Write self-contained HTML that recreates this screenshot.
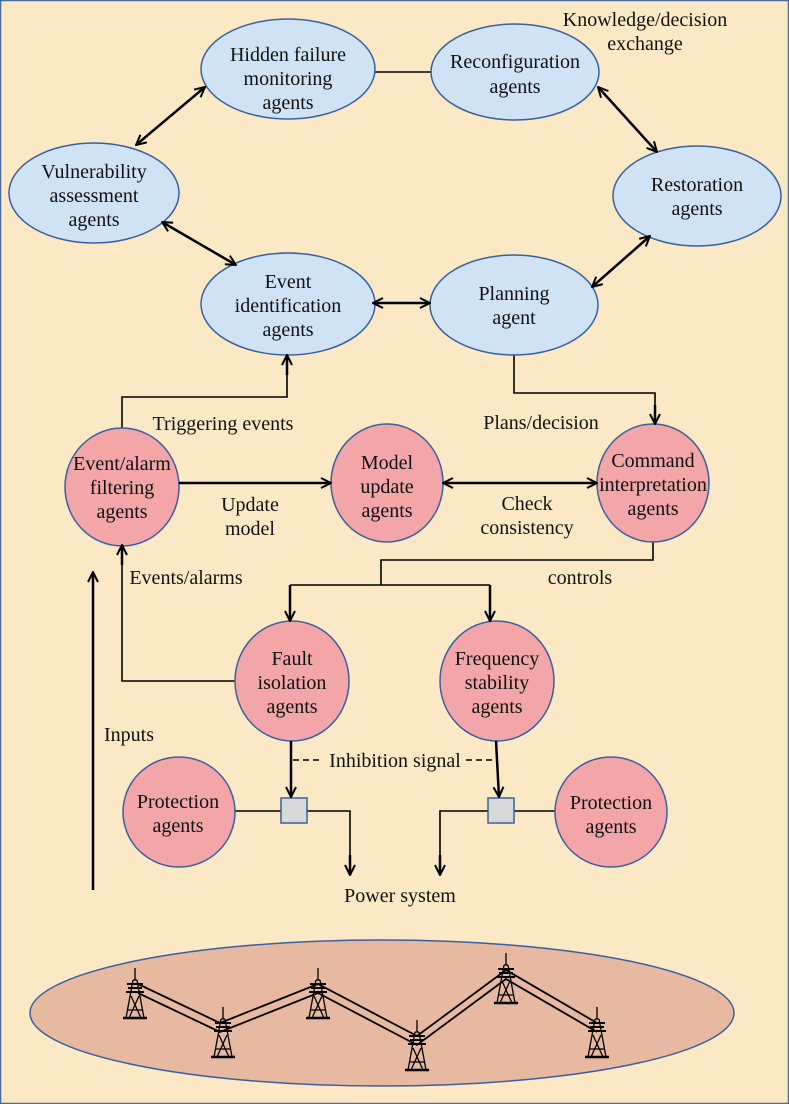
<!DOCTYPE html>
<html><head><meta charset="utf-8"><style>
html,body{margin:0;padding:0;background:#fbe9c5;}
svg{display:block;}
text{font-family:"Liberation Serif",serif;font-size:20px;fill:#111;}
</style></head><body>
<svg width="789" height="1104" viewBox="0 0 789 1104" xmlns="http://www.w3.org/2000/svg">
<defs>
<marker id="a" viewBox="0 0 12 12" refX="11" refY="6" markerWidth="12" markerHeight="12" markerUnits="userSpaceOnUse" orient="auto-start-reverse">
<path d="M1,1 L11,6 L1,11" fill="none" stroke="#000" stroke-width="2"/>
</marker>
<g id="tw" stroke="#000" fill="none" stroke-width="1.3">
<line x1="0" y1="0" x2="0" y2="12"/>
<path d="M-2,12 L-9,50 M2,12 L9,50 M-2,12 L2,12"/>
<path d="M-8,16 L8,16 M-9,24 L9,24 M-7,20 L7,20" stroke-width="2"/>
<path d="M-4,28 L6,50 M4,28 L-6,50 M-7,42 L7,42"/>
<line x1="-12" y1="50" x2="12" y2="50" stroke-width="2.5"/>
</g>
</defs>
<rect x="0.5" y="0.5" width="788" height="1103" fill="#fbe9c5" stroke="#4a6a9a" stroke-width="1.5"/>

<g stroke="#000" stroke-width="1.6" fill="none">
<line x1="375" y1="72" x2="431" y2="72"/>
<polyline points="122,428 122,397 287,397 287,370"/>
<polyline points="514,355 514,393 655,393 655,410"/>
<polyline points="653,541 653,560 381,560 381,585"/>
<polyline points="290,585 490,585"/>
<polyline points="235,681 122,681 122,560"/>
<line x1="235" y1="811" x2="281" y2="811"/>
<polyline points="307,811 350,811 350,860"/>
<polyline points="488,811 440,811 440,860"/>
<line x1="514" y1="811" x2="555" y2="811"/>
<path d="M293,760 H322 M466,760 H497" stroke-dasharray="6,4"/>
</g>

<g fill="#cfe3f5" stroke="#3a5fa0" stroke-width="1.5">
<ellipse cx="288" cy="69" rx="87" ry="50"/>
<ellipse cx="515" cy="72" rx="84" ry="48"/>
<ellipse cx="94" cy="193" rx="85" ry="50"/>
<ellipse cx="697" cy="196" rx="84" ry="50"/>
<ellipse cx="288" cy="304" rx="87" ry="51"/>
<ellipse cx="514" cy="305" rx="84" ry="50"/>
</g>
<g fill="#f3a6a8" stroke="#3a5fa0" stroke-width="1.5">
<ellipse cx="122" cy="487" rx="57" ry="59"/>
<ellipse cx="387" cy="483" rx="56" ry="59"/>
<ellipse cx="653" cy="483" rx="56" ry="59"/>
<ellipse cx="292" cy="681" rx="57" ry="60"/>
<ellipse cx="497" cy="681" rx="57" ry="60"/>
<ellipse cx="179" cy="812" rx="56" ry="55"/>
<ellipse cx="611" cy="812" rx="56" ry="55"/>
</g>
<g fill="#d9d9d9" stroke="#3a5fa0" stroke-width="1.5">
<rect x="281" y="798" width="26" height="25"/>
<rect x="488" y="798" width="26" height="25"/>
</g>

<g stroke="#000" stroke-width="2.5" fill="none">
<line x1="205" y1="87" x2="136" y2="145" marker-start="url(#a)" marker-end="url(#a)"/>
<line x1="162" y1="222" x2="236" y2="265" marker-start="url(#a)" marker-end="url(#a)"/>
<line x1="373" y1="303" x2="430" y2="303" marker-start="url(#a)" marker-end="url(#a)"/>
<line x1="592" y1="287" x2="650" y2="236" marker-start="url(#a)" marker-end="url(#a)"/>
<line x1="598" y1="87" x2="657" y2="152" marker-start="url(#a)" marker-end="url(#a)"/>
<line x1="443" y1="483" x2="597" y2="483" marker-start="url(#a)" marker-end="url(#a)"/>
<line x1="179" y1="483" x2="331" y2="483" marker-end="url(#a)"/>
<line x1="287" y1="375" x2="287" y2="355" marker-end="url(#a)"/>
<line x1="655" y1="405" x2="655" y2="424" marker-end="url(#a)"/>
<line x1="290" y1="585" x2="290" y2="621" marker-end="url(#a)"/>
<line x1="490" y1="585" x2="490" y2="621" marker-end="url(#a)"/>
<line x1="122" y1="565" x2="122" y2="545" marker-end="url(#a)"/>
<line x1="291" y1="741" x2="291" y2="797" marker-end="url(#a)"/>
<line x1="496" y1="741" x2="499" y2="797" marker-end="url(#a)"/>
<line x1="350" y1="855" x2="350" y2="875" marker-end="url(#a)"/>
<line x1="440" y1="855" x2="440" y2="875" marker-end="url(#a)"/>
<line x1="93" y1="890" x2="93" y2="572" marker-end="url(#a)"/>
</g>

<g text-anchor="middle">
<text x="288" y="61">Hidden failure</text><text x="288" y="85">monitoring</text><text x="288" y="109">agents</text>
<text x="515" y="68">Reconfiguration</text><text x="515" y="93">agents</text>
<text x="94" y="178">Vulnerability</text><text x="94" y="202">assessment</text><text x="94" y="226">agents</text>
<text x="697" y="191">Restoration</text><text x="697" y="215">agents</text>
<text x="288" y="288">Event</text><text x="288" y="312">identification</text><text x="288" y="336">agents</text>
<text x="514" y="300">Planning</text><text x="514" y="324">agent</text>
<text x="122" y="470">Event/alarm</text><text x="122" y="494">filtering</text><text x="122" y="518">agents</text>
<text x="387" y="469">Model</text><text x="387" y="493">update</text><text x="387" y="517">agents</text>
<text x="653" y="467">Command</text><text x="653" y="491">interpretation</text><text x="653" y="515">agents</text>
<text x="292" y="665">Fault</text><text x="292" y="689">isolation</text><text x="292" y="713">agents</text>
<text x="497" y="665">Frequency</text><text x="497" y="689">stability</text><text x="497" y="713">agents</text>
<text x="178" y="808">Protection</text><text x="178" y="832">agents</text>
<text x="611" y="809">Protection</text><text x="611" y="833">agents</text>
<text x="645" y="26">Knowledge/decision</text><text x="645" y="50">exchange</text>
<text x="223" y="430">Triggering events</text>
<text x="541" y="429">Plans/decision</text>
<text x="250" y="511">Update</text><text x="250" y="535">model</text>
<text x="527" y="510">Check</text><text x="527" y="534">consistency</text>
<text x="186" y="584">Events/alarms</text>
<text x="580" y="584">controls</text>
<text x="129" y="741">Inputs</text>
<text x="395" y="767">Inhibition signal</text>
<text x="400" y="902">Power system</text>
</g>

<ellipse cx="382" cy="1013" rx="352" ry="73" fill="#e6b9a0" stroke="#3a5fa0" stroke-width="1.5"/>
<g stroke="#000" stroke-width="1.8" fill="none">
<polyline points="138,984 220,1023 318,984 417,1036 506,970 597,1023"/>
<polyline points="138,993 220,1032 318,993 417,1045 506,979 597,1032"/>
</g>
<use href="#tw" x="135" y="968"/>
<use href="#tw" x="223" y="1007"/>
<use href="#tw" x="318" y="968"/>
<use href="#tw" x="417" y="1020"/>
<use href="#tw" x="506" y="953"/>
<use href="#tw" x="597" y="1007"/>
</svg>
</body></html>
